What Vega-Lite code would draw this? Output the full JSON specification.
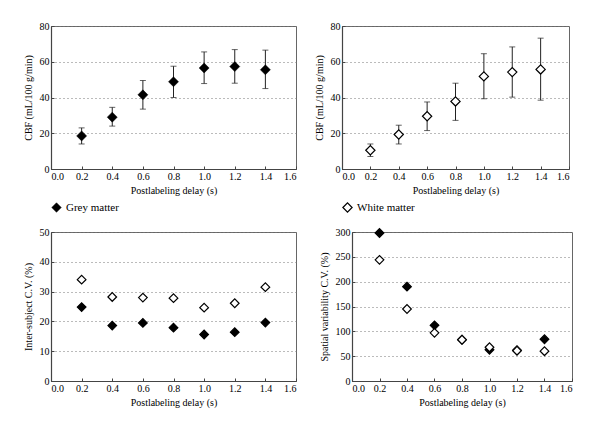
{
  "$schema": "https://vega.github.io/schema/vega-lite/v6.json",
  "padding": {"left": 22, "top": 20, "right": 5, "bottom": 5},
  "background": "white",
  "datasets": {
    "cbf": [
      {"delay": 0.2, "tissue": "Grey matter", "mean": 18.5, "lo": 14, "hi": 23},
      {"delay": 0.4, "tissue": "Grey matter", "mean": 29, "lo": 24, "hi": 34.5},
      {"delay": 0.6, "tissue": "Grey matter", "mean": 41.5, "lo": 33.5, "hi": 49.5},
      {"delay": 0.8, "tissue": "Grey matter", "mean": 48.8, "lo": 40, "hi": 57.5},
      {"delay": 1.0, "tissue": "Grey matter", "mean": 56.5, "lo": 47.8, "hi": 65.5},
      {"delay": 1.2, "tissue": "Grey matter", "mean": 57.3, "lo": 48, "hi": 66.8},
      {"delay": 1.4, "tissue": "Grey matter", "mean": 55.5, "lo": 45, "hi": 66.5},
      {"delay": 0.2, "tissue": "White matter", "mean": 10.5, "lo": 7, "hi": 14},
      {"delay": 0.4, "tissue": "White matter", "mean": 19.3, "lo": 14, "hi": 24.5},
      {"delay": 0.6, "tissue": "White matter", "mean": 29.5, "lo": 21.5, "hi": 37.5},
      {"delay": 0.8, "tissue": "White matter", "mean": 37.8, "lo": 27.2, "hi": 48},
      {"delay": 1.0, "tissue": "White matter", "mean": 51.8, "lo": 39.3, "hi": 64.5},
      {"delay": 1.2, "tissue": "White matter", "mean": 54.2, "lo": 40.2, "hi": 68.3},
      {"delay": 1.4, "tissue": "White matter", "mean": 55.7, "lo": 38.5, "hi": 73.2}
    ],
    "cv": [
      {"delay": 0.2, "tissue": "Grey matter", "inter": 24.8, "spatial": 298},
      {"delay": 0.4, "tissue": "Grey matter", "inter": 18.6, "spatial": 190},
      {"delay": 0.6, "tissue": "Grey matter", "inter": 19.5, "spatial": 112},
      {"delay": 0.8, "tissue": "Grey matter", "inter": 17.9, "spatial": 83},
      {"delay": 1.0, "tissue": "Grey matter", "inter": 15.6, "spatial": 63},
      {"delay": 1.2, "tissue": "Grey matter", "inter": 16.4, "spatial": 62},
      {"delay": 1.4, "tissue": "Grey matter", "inter": 19.6, "spatial": 84},
      {"delay": 0.2, "tissue": "White matter", "inter": 34, "spatial": 244},
      {"delay": 0.4, "tissue": "White matter", "inter": 28.2, "spatial": 145},
      {"delay": 0.6, "tissue": "White matter", "inter": 28, "spatial": 97},
      {"delay": 0.8, "tissue": "White matter", "inter": 27.8, "spatial": 83},
      {"delay": 1.0, "tissue": "White matter", "inter": 24.6, "spatial": 68},
      {"delay": 1.2, "tissue": "White matter", "inter": 26.1, "spatial": 61},
      {"delay": 1.4, "tissue": "White matter", "inter": 31.5, "spatial": 60}
    ]
  },
  "spacing": 9,
  "resolve": {"scale": {"fill": "independent"}, "legend": {"fill": "independent"}},
  "vconcat": [
    {
      "bounds": "flush",
      "spacing": 46,
      "resolve": {"scale": {"fill": "independent"}, "legend": {"fill": "independent"}},
      "hconcat": [
        {
          "width": 245,
          "height": 143,
          "data": {"name": "cbf"},
          "transform": [{"filter": "datum.tissue === 'Grey matter'"}],
          "encoding": {
            "x": {"field": "delay", "type": "quantitative", "scale": {"domain": [0, 1.6]},
              "axis": {"values": [0, 0.2, 0.4, 0.6, 0.8, 1.0, 1.2, 1.4, 1.6], "format": ".1f", "title": "Postlabeling delay (s)"}}
          },
          "layer": [
            {"mark": {"type": "rule", "color": "#222", "strokeWidth": 1},
             "encoding": {"y": {"field": "lo", "type": "quantitative", "scale": {"domain": [0, 80]},
               "axis": {"values": [0, 20, 40, 60, 80], "labelOverlap": false, "title": "CBF (mL/100 g/min)"}}, "y2": {"field": "hi"}}},
            {"mark": {"type": "tick", "orient": "horizontal", "size": 6, "thickness": 1, "color": "#222"},
             "encoding": {"y": {"field": "lo", "type": "quantitative", "axis": {"values": [0, 20, 40, 60, 80], "labelOverlap": false, "title": "CBF (mL/100 g/min)"}}}},
            {"mark": {"type": "tick", "orient": "horizontal", "size": 6, "thickness": 1, "color": "#222"},
             "encoding": {"y": {"field": "hi", "type": "quantitative", "axis": {"values": [0, 20, 40, 60, 80], "labelOverlap": false, "title": "CBF (mL/100 g/min)"}}}},
            {"mark": {"type": "point", "shape": "diamond", "filled": true, "size": 100, "opacity": 1, "stroke": "black", "strokeWidth": 0.5},
             "encoding": {"y": {"field": "mean", "type": "quantitative", "axis": {"values": [0, 20, 40, 60, 80], "labelOverlap": false, "title": "CBF (mL/100 g/min)"}},
               "fill": {"field": "tissue", "type": "nominal", "scale": {"domain": ["Grey matter"], "range": ["black"]},
                 "legend": {"orient": "none", "legendX": 0, "legendY": 176, "title": null, "symbolType": "diamond", "symbolSize": 90,
                   "symbolStrokeColor": "black", "symbolStrokeWidth": 0.5, "labelFontSize": 11, "labelColor": "black", "labelFont": "Liberation Serif"}}}}
          ]
        },
        {
          "width": 227,
          "height": 143,
          "data": {"name": "cbf"},
          "transform": [{"filter": "datum.tissue === 'White matter'"}],
          "encoding": {
            "x": {"field": "delay", "type": "quantitative", "scale": {"domain": [0, 1.6]},
              "axis": {"values": [0, 0.2, 0.4, 0.6, 0.8, 1.0, 1.2, 1.4, 1.6], "format": ".1f", "title": "Postlabeling delay (s)"}}
          },
          "layer": [
            {"mark": {"type": "rule", "color": "#222", "strokeWidth": 1},
             "encoding": {"y": {"field": "lo", "type": "quantitative", "scale": {"domain": [0, 80]},
               "axis": {"values": [0, 20, 40, 60, 80], "labelOverlap": false, "title": "CBF (mL/100 g/min)"}}, "y2": {"field": "hi"}}},
            {"mark": {"type": "tick", "orient": "horizontal", "size": 6, "thickness": 1, "color": "#222"},
             "encoding": {"y": {"field": "lo", "type": "quantitative", "axis": {"values": [0, 20, 40, 60, 80], "labelOverlap": false, "title": "CBF (mL/100 g/min)"}}}},
            {"mark": {"type": "tick", "orient": "horizontal", "size": 6, "thickness": 1, "color": "#222"},
             "encoding": {"y": {"field": "hi", "type": "quantitative", "axis": {"values": [0, 20, 40, 60, 80], "labelOverlap": false, "title": "CBF (mL/100 g/min)"}}}},
            {"mark": {"type": "point", "shape": "diamond", "filled": true, "size": 85, "opacity": 1, "stroke": "black", "strokeWidth": 1.2},
             "encoding": {"y": {"field": "mean", "type": "quantitative", "axis": {"values": [0, 20, 40, 60, 80], "labelOverlap": false, "title": "CBF (mL/100 g/min)"}},
               "fill": {"field": "tissue", "type": "nominal", "scale": {"domain": ["White matter"], "range": ["white"]},
                 "legend": {"orient": "none", "legendX": 0, "legendY": 176, "title": null, "symbolType": "diamond", "symbolSize": 85,
                   "symbolStrokeColor": "black", "symbolStrokeWidth": 1.2, "labelFontSize": 11, "labelColor": "black", "labelFont": "Liberation Serif"}}}}
          ]
        }
      ]
    },
    {
      "bounds": "flush",
      "spacing": 56,
      "resolve": {"scale": {"fill": "independent"}, "legend": {"fill": "independent"}},
      "hconcat": [
        {
          "width": 245,
          "height": 149,
          "data": {"name": "cv"},
          "mark": {"type": "point", "shape": "diamond", "filled": true, "size": 75, "opacity": 1, "stroke": "black", "strokeWidth": 1.2},
          "encoding": {
            "x": {"field": "delay", "type": "quantitative", "scale": {"domain": [0, 1.6]},
              "axis": {"values": [0, 0.2, 0.4, 0.6, 0.8, 1.0, 1.2, 1.4, 1.6], "format": ".1f", "title": "Postlabeling delay (s)"}},
            "y": {"field": "inter", "type": "quantitative", "scale": {"domain": [0, 50]},
              "axis": {"values": [0, 10, 20, 30, 40, 50], "title": "Inter-subject C.V. (%)"}},
            "fill": {"field": "tissue", "type": "nominal", "scale": {"domain": ["Grey matter", "White matter"], "range": ["black", "white"]}, "legend": null}
          }
        },
        {
          "width": 220,
          "height": 149,
          "data": {"name": "cv"},
          "mark": {"type": "point", "shape": "diamond", "filled": true, "size": 75, "opacity": 1, "stroke": "black", "strokeWidth": 1.2},
          "encoding": {
            "x": {"field": "delay", "type": "quantitative", "scale": {"domain": [0, 1.6]},
              "axis": {"values": [0, 0.2, 0.4, 0.6, 0.8, 1.0, 1.2, 1.4, 1.6], "format": ".1f", "title": "Postlabeling delay (s)"}},
            "y": {"field": "spatial", "type": "quantitative", "scale": {"domain": [0, 300]},
              "axis": {"values": [0, 50, 100, 150, 200, 250, 300], "title": "Spatial variability C.V. (%)"}},
            "fill": {"field": "tissue", "type": "nominal", "scale": {"domain": ["Grey matter", "White matter"], "range": ["black", "white"]}, "legend": null}
          }
        }
      ]
    }
  ],
  "config": {
    "font": "Liberation Serif",
    "view": {"stroke": "#666", "strokeWidth": 1},
    "axis": {
      "labelFont": "Liberation Serif", "titleFont": "Liberation Serif",
      "labelFontSize": 10, "titleFontSize": 10, "titleFontWeight": "normal",
      "labelColor": "black", "titleColor": "black",
      "domainColor": "#444", "domainWidth": 1.2, "tickColor": "#444",
      "tickSize": -3, "labelPadding": 5,
      "grid": false
    },
    "axisX": {"titlePadding": 4},
    "axisY": {"grid": true, "gridColor": "#777", "gridDash": [1, 3], "gridWidth": 1, "titlePadding": 6}
  }
}
